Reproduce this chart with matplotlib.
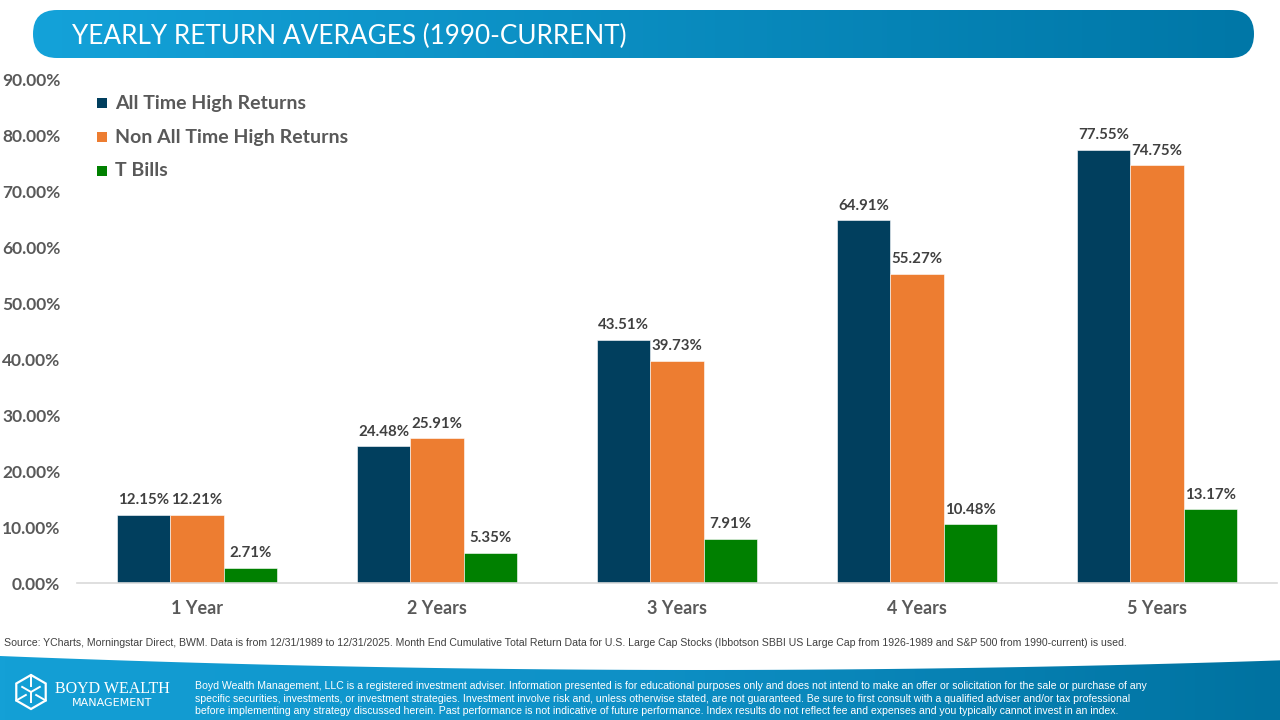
import matplotlib.pyplot as plt
import numpy as np
from matplotlib.patches import FancyBboxPatch, Polygon, Rectangle
from matplotlib.colors import LinearSegmentedColormap

# data
categories = ['1 Year', '2 Years', '3 Years', '4 Years', '5 Years']
series_names = ['All Time High Returns', 'Non All Time High Returns', 'T Bills']
ath_returns = [12.15, 24.48, 43.51, 64.91, 77.55]
non_ath_returns = [12.21, 25.91, 39.73, 55.27, 74.75]
tbill_returns = [2.71, 5.35, 7.91, 10.48, 13.17]
y_ticks = [0, 10, 20, 30, 40, 50, 60, 70, 80, 90]

colors = ['#013F5E', '#ED7D31', '#008000']
label_grey = '#595959'
value_grey = '#404040'

title = 'YEARLY RETURN AVERAGES (1990-CURRENT)'
source_text = ('Source: YCharts, Morningstar Direct, BWM. Data is from 12/31/1989 to 12/31/2025. '
               'Month End Cumulative Total Return Data for U.S. Large Cap Stocks (Ibbotson SBBI US Large Cap '
               'from 1926-1989 and S&P 500 from 1990-current) is used.')
disclaimer = [
    'Boyd Wealth Management, LLC is a registered investment adviser. Information presented is for educational '
    'purposes only and does not intend to make an offer or solicitation for the sale or purchase of any',
    'specific securities, investments, or investment strategies. Investment involve risk and, unless otherwise '
    'stated, are not guaranteed. Be sure to first consult with a qualified adviser and/or tax professional',
    'before implementing any strategy discussed herein. Past performance is not indicative of future performance. '
    'Index results do not reflect fee and expenses and you typically cannot invest in an index.',
]

W, H = 1280, 720
fig = plt.figure(figsize=(12.8, 7.2), dpi=100)
fig.patch.set_facecolor('white')

# background layer in pixel coords for header / footer shapes
bg = fig.add_axes([0, 0, 1, 1])
bg.set_xlim(0, W)
bg.set_ylim(H, 0)
bg.axis('off')

grad = np.linspace(0, 1, 256).reshape(1, -1)

# header pill with gradient
hdr_cmap = LinearSegmentedColormap.from_list('hdr', ['#14A2D9', '#0077A7'])
pill = FancyBboxPatch((33, 10), 1254 - 33, 48,
                      boxstyle='round,pad=0,rounding_size=24',
                      facecolor='none', edgecolor='none')
bg.add_patch(pill)
im = bg.imshow(grad, cmap=hdr_cmap, extent=(33, 1254, 58, 10), aspect='auto', zorder=1)
im.set_clip_path(pill)
bg.text(72, 36, title, color='white', fontsize=18.8, family='Lato',
        va='center', ha='left', zorder=2)

# footer band with curved top edge
xs = np.linspace(0, W, 60)
top = 670 - 14 * ((xs - 700) / 700) ** 2
foot_pts = np.vstack([np.column_stack([xs, top]), [[W, H], [0, H]]])
foot = Polygon(foot_pts, closed=True, facecolor='none', edgecolor='none')
bg.add_patch(foot)
ftr_cmap = LinearSegmentedColormap.from_list('ftr', ['#14A0D6', '#0E90C6', '#0072A0'])
im2 = bg.imshow(grad, cmap=ftr_cmap, extent=(0, W, H, 650), aspect='auto', zorder=1)
im2.set_clip_path(foot)

# logo: hexagon cube outline
cx, cy, r = 31, 692, 17
ang = np.deg2rad(np.arange(90, 450, 60))
hx = cx + r * np.cos(ang)
hy = cy - r * np.sin(ang)
bg.add_patch(Polygon(np.column_stack([hx, hy]), closed=True, fill=False,
                     edgecolor='white', lw=1.6, zorder=3))
for k in (0, 2, 4):
    bg.plot([hx[k], cx + 0.35 * r * np.cos(ang[k])], [hy[k], cy - 0.35 * r * np.sin(ang[k])],
            color='white', lw=1.4, zorder=3)
for k in (1, 3, 5):
    bg.plot([cx, cx + 0.6 * r * np.cos(ang[k])], [cy, cy - 0.6 * r * np.sin(ang[k])],
            color='white', lw=1.4, zorder=3)
bg.text(112, 689, 'BOYD WEALTH', color='white', fontsize=11.5, family='Liberation Serif',
        ha='center', va='center', zorder=3)
bg.text(112, 703, 'MANAGEMENT', color='white', fontsize=8, family='DejaVu Sans',
        ha='center', va='center', zorder=3)

for i, line in enumerate(disclaimer):
    bg.text(195, 686 + i * 12.5, line, color='white', fontsize=7.55,
            family='Liberation Sans', ha='left', va='center', zorder=3)

bg.text(4, 643, source_text, color=value_grey, fontsize=7.6,
        family='Liberation Sans', ha='left', va='center')

# main chart
ax = fig.add_axes([77 / W, 137 / H, 1200 / W, 503 / H])
ax.set_facecolor('none')
x = np.arange(len(categories))
width = 0.222
all_series = [ath_returns, non_ath_returns, tbill_returns]
for i, (vals, col) in enumerate(zip(all_series, colors)):
    xpos = x + (i - 1) * width
    bars = ax.bar(xpos, vals, width=width, color=col, edgecolor='white', linewidth=0.4, zorder=2)
    for b, v in zip(bars, vals):
        ax.annotate(f'{v:.2f}%', (b.get_x() + b.get_width() / 2, v), xytext=(0, 5.5),
                    textcoords='offset points', ha='center', va='bottom',
                    fontsize=10.8, fontweight='bold', color=value_grey, family='Lato')

ax.set_xlim(-0.5, len(categories) - 0.5)
ax.set_ylim(0, 90)
ax.set_yticks(y_ticks)
ax.set_yticklabels([f'{v:.2f}%' for v in y_ticks])
ax.set_xticks(x)
ax.set_xticklabels(categories)
for lab in ax.get_yticklabels():
    lab.set_fontsize(12.5)
    lab.set_fontweight('bold')
    lab.set_color(label_grey)
    lab.set_family('Lato')
for lab in ax.get_xticklabels():
    lab.set_fontsize(13)
    lab.set_fontweight('bold')
    lab.set_color(label_grey)
    lab.set_family('Lato')
ax.tick_params(axis='y', length=0, pad=12)
ax.tick_params(axis='x', length=0, pad=12)
for s in ['top', 'right', 'left']:
    ax.spines[s].set_visible(False)
ax.spines['bottom'].set_color('#D9D9D9')
ax.spines['bottom'].set_linewidth(1.2)

# legend drawn by hand to match the placement
for i, (name, col) in enumerate(zip(series_names, colors)):
    yc = 103 + i * 34
    bg.add_patch(Rectangle((97, yc - 5), 10, 10, facecolor=col, edgecolor='none', zorder=3))
    bg.text(115, yc, name, color=label_grey, fontsize=14, fontweight='bold', family='Lato',
            ha='left', va='center', zorder=3)

fig.savefig('out.png', dpi=100)
